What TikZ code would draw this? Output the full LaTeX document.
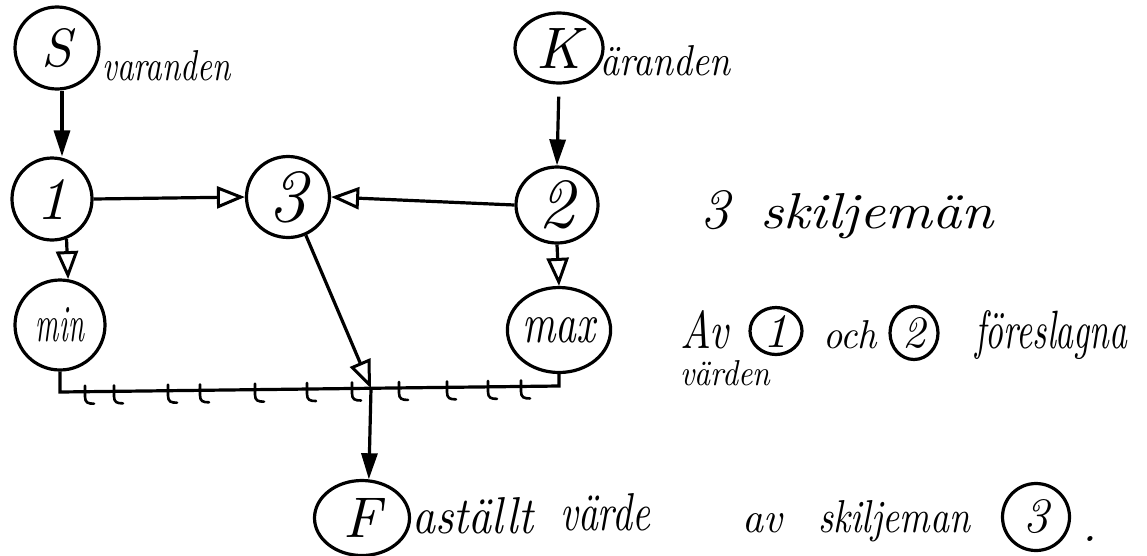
\documentclass[tikz,border=0pt]{standalone}
\usepackage{fontspec}
\usepackage{graphicx}
\usetikzlibrary{arrows.meta,shapes.geometric}
\newcommand\hwb[3]{\resizebox{#1pt}{#2pt}{\itshape #3}}
\newcommand\hwh[2]{\resizebox{!}{#1pt}{\itshape #2}}
\begin{document}
\begin{tikzpicture}[x=1pt,y=-1pt,
  circ/.style={ellipse, draw, line width=3.2pt, inner sep=0pt},
  conn/.style={line width=3.2pt},
  openarr/.style={conn, -{Triangle[open, length=28pt, width=22pt, line width=3pt]}},
  fillarr/.style={conn, -{Triangle[length=26pt, width=16pt]}},
  txt/.style={inner sep=0pt, anchor=base west},
  tickmark/.style={line width=2.6pt, line cap=round}]
\useasboundingbox (0,0) rectangle (1147,555);
% circled nodes
\node[circ, minimum width=84pt, minimum height=82pt] (S) at (57,48) {\hwh{38}{S}};
\node[circ, minimum width=88pt, minimum height=70pt] (K) at (559,48) {\hwh{40}{K}};
\node[circ, minimum width=80pt, minimum height=82pt] (n1) at (52,199) {\hwh{40}{1}};
\node[circ, minimum width=83pt, minimum height=81pt] (n3) at (288,197) {\hwh{50}{3}};
\node[circ, minimum width=82pt, minimum height=76pt] (n2) at (557,205) {\hwh{47}{2}};
\node[circ, minimum width=90pt, minimum height=90pt] (mn) at (60,325) {\hwb{48}{34}{min}};
\node[circ, minimum width=102pt, minimum height=85pt] (mx) at (559,330) {\hwb{73}{25}{max}};
\node[circ, minimum width=95pt, minimum height=75pt] (F) at (362,518) {\hwh{39}{F}};
\node[circ, minimum width=52pt, minimum height=47pt] (c1) at (776,331) {\hwh{32}{1}};
\node[circ, minimum width=48pt, minimum height=53pt] (c2) at (914,333) {\hwh{30}{2}};
\node[circ, minimum width=67pt, minimum height=67pt] (c3) at (1036,517) {\hwh{33}{3}};
% texts
\node[txt] (tS) at (102,80) {\hwb{128}{30}{varanden}};
\node[txt] (tK) at (600,75) {\hwb{130}{30}{äranden}};
\node[txt] (t3) at (700,228) {\hwh{38}{3}};
\node[txt] (tsk) at (760,228) {\hwb{233}{35}{skiljemän}};
\node[txt] (tav) at (680,348) {\hwb{48}{38}{Av}};
\node[txt] (toch) at (823,348) {\hwb{54}{28}{och}};
\node[txt] (tfor) at (975,348) {\hwb{152}{38}{föreslagna}};
\node[txt] (tvar) at (680,385) {\hwb{90}{25}{värden}};
\node[txt] (tast) at (412,533) {\hwb{121}{36}{aställt}};
\node[txt] (tvard) at (560,530) {\hwb{90}{37}{värde}};
\node[txt] (tav2) at (742,532) {\hwb{40}{19}{av}};
\node[txt] (tskm) at (818,532) {\hwb{152}{32}{skiljeman}};
\node[txt] (tdot) at (1082,541) {\hwh{5}{.}};
% coordinates
\coordinate (BL) at (0,392);
\coordinate (BR) at (0,386);
\coordinate (J) at (371,388.3);
% connectors
\draw[fillarr] ([xshift=5pt]S.south) -- ([xshift=10pt]n1.north);
\draw[fillarr, shorten <=12pt] (K.south) -- (n2.north);
\draw[openarr] (n1.east) -- (n3.west);
\draw[openarr] (n2.west) -- (n3.east);
\draw[openarr] (n1.-70) -- (mn.80);
\draw[openarr] (n2.south) -- (mx.north);
\draw[conn] (mn.south) -- (mn.south |- BL) -- (mx.south |- BR) -- (mx.south);
\draw[openarr] (n3.-65) -- (J);
\draw[fillarr] (J) -- (F.80);
% tick marks on the bottom bar
\foreach \tx in {85,114,168,200,255,307,352,399,447,488,521} {
  \pgfmathsetmacro\ty{392-6*(\tx-60)/499}
  \draw[tickmark] (\tx,{\ty-6}) -- (\tx,{\ty+5})
    .. controls (\tx,{\ty+11}) and ({\tx+3},{\ty+12}) .. ({\tx+9},{\ty+12});
}
\end{tikzpicture}
\end{document}
